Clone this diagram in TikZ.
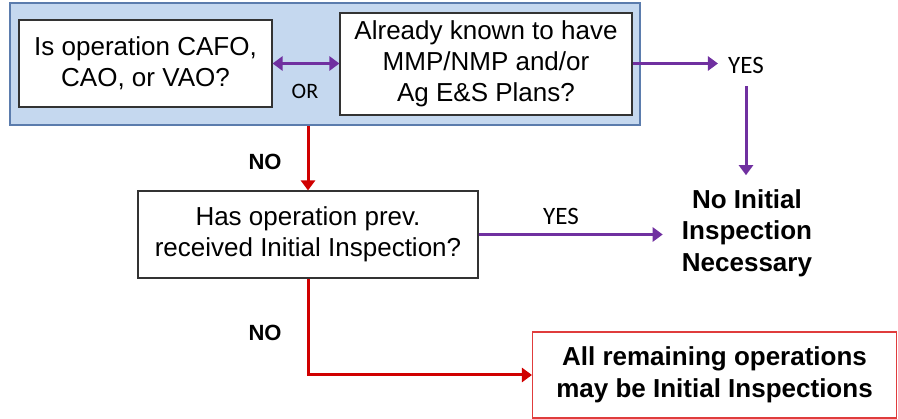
\documentclass[tikz,border=0pt]{standalone}
\usepackage{fontspec}
\setmainfont{Liberation Sans}
\newfontfamily\calib{Carlito}
\usetikzlibrary{arrows.meta}
\definecolor{outerfill}{HTML}{C5D8EF}
\definecolor{outerdraw}{HTML}{5B7CAD}
\definecolor{purp}{HTML}{7030A0}
\definecolor{redln}{HTML}{D00000}
\definecolor{redbox}{HTML}{E03C3C}
\begin{document}
\begin{tikzpicture}[x=1pt,y=-1pt,
  qbox/.style={draw=black!80,line width=1.1pt,fill=white,align=center,inner sep=0pt,
    font=\fontsize{26}{31}\selectfont},
  lbl/.style={inner sep=0pt,font=\calib\fontsize{25}{30}\selectfont},
  nolbl/.style={inner sep=0pt,font=\bfseries\fontsize{22}{26}\selectfont},
  tip/.style={-{Triangle[length=10pt,width=14pt]}},
  parrow/.style={draw=purp,line width=3pt,tip},
  rarrow/.style={draw=redln,line width=3pt,tip}]
\useasboundingbox (0,0) rectangle (898,419);
\node[draw=outerdraw,line width=1.5pt,fill=outerfill,minimum width=630pt,minimum height=122pt,inner sep=0pt] (outer) at (325,64) {};
\node[qbox,minimum width=253pt,minimum height=87pt] (box1) at (145.5,63.5) {Is operation CAFO,\\CAO, or VAO?};
\node[qbox,minimum width=292pt,minimum height=102pt] (box2) at (486,64) {Already known to have\\MMP/NMP and/or\\Ag E\&S Plans?};
\node[qbox,minimum width=340pt,minimum height=87pt] (box3) at (308,234.5) {Has operation prev.\\received Initial Inspection?};
\node[draw=redbox,line width=1.1pt,fill=white,align=center,inner sep=0pt,minimum width=364pt,minimum height=86pt,
  font=\bfseries\fontsize{26}{32}\selectfont] (box4) at (714.5,375) {All remaining operations\\may be Initial Inspections};
\node[align=center,inner sep=0pt,font=\bfseries\fontsize{26}{31.5}\selectfont] (noinsp) at (747,233) {No Initial\\Inspection\\Necessary};
\node[lbl,font=\calib\fontsize{22}{26}\selectfont] (or) at (305,91) {OR};
\node[lbl] (yes1) at (746,65) {YES};
\node[lbl] (yes2) at (561,216) {YES};
\node[nolbl] (no1) at (265,162) {NO};
\node[nolbl] (no2) at (265,333) {NO};
\draw[parrow,{Triangle[length=10pt,width=14pt]}-{Triangle[length=10pt,width=14pt]}] (box1.east) -- (box1.east -| box2.west);
\draw[parrow,shorten >=10pt] (box2.east |- box1.east) -- (box1.east -| yes1.west);
\draw[parrow,shorten <=13pt,shorten >=14pt] (yes1.south) -- (yes1.south |- noinsp.north);
\draw[parrow,shorten >=19pt] (box3.east) -- (box3.east -| noinsp.west);
\draw[rarrow] (box3.north |- outer.south) -- (box3.north);
\draw[rarrow] (box3.south) |- (box4.west);
\end{tikzpicture}
\end{document}
